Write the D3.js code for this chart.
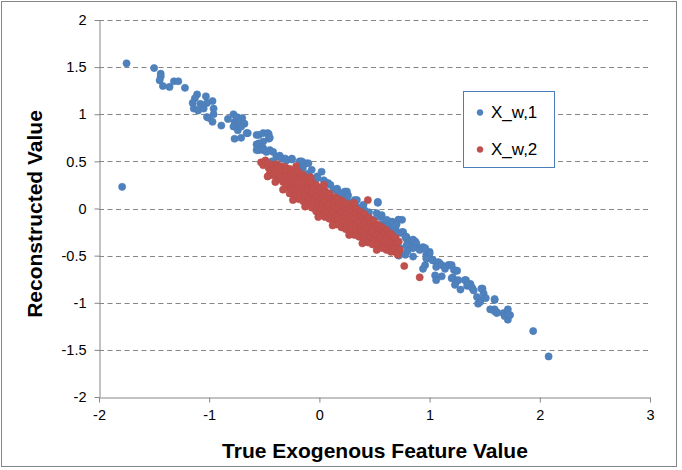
<!DOCTYPE html>
<html><head><meta charset="utf-8">
<script src="https://cdn.jsdelivr.net/npm/d3@7"></script>
<style>body{margin:0;background:#fff;} svg{display:block;}</style>
</head><body>
<svg id="c" width="682" height="470"></svg>
<script>
const xTicks = [-2, -1, 0, 1, 2, 3];
const yTicks = [-2, -1.5, -1, -0.5, 0, 0.5, 1, 1.5, 2];
const seriesNames = ["X_w,1", "X_w,2"];
const xTitle = "True Exogenous Feature Value";
const yTitle = "Reconstructed Value";

const blueData = [
[-1.79,0.23],
[-1.75,1.54],[-1.50,1.49],[-1.44,1.43],[-1.44,1.40],[-1.45,1.36],[-1.42,1.30],[-1.36,1.29],[-1.32,1.35],[-1.28,1.35],[-1.22,1.28],
[-1.11,1.21],[-1.13,1.17],[-1.03,1.19],[-0.97,1.14],[-1.15,1.12],[-1.08,1.11],[-1.02,1.12],[-1.14,1.06],[-1.10,1.04],[-1.05,1.06],
[-0.96,1.06],[-0.96,1.00],[-1.02,0.97],[-1.00,0.96],[-0.97,0.92],[-0.89,0.88],[-0.83,0.95],[-0.78,1.00],[-0.75,0.97],[-0.70,0.96],
[-0.77,0.92],[-0.74,0.90],[-0.68,0.90],[-0.78,0.87],[-0.74,0.83],[-0.65,0.80],[-0.77,0.74],[-0.71,0.75],[-0.71,0.87],[-0.66,0.80],
[-0.57,0.78],[-0.55,0.78],[-0.51,0.80],[-0.47,0.80],[-0.46,0.79],[-0.46,0.74],[-0.45,0.75],[-0.51,0.71],[-0.57,0.68],[-0.55,0.69],
[-0.55,0.62],[-0.57,0.62],[-0.51,0.64],[-0.51,0.62],[-0.45,0.62],[-0.48,0.60],[-0.42,0.60],[-0.39,0.55],[-0.36,0.56],[-0.36,0.55],
[-0.34,0.53],[-0.31,0.53],[-0.30,0.51],[-0.25,0.53],[-0.25,0.52],[-0.44,0.48],[-0.43,0.50],
[-0.18,0.50],[-0.16,0.50],[-0.12,0.48],[-0.10,0.48],[-0.15,0.43],[-0.18,0.43],[-0.07,0.41],[-0.10,0.37],[0.02,0.39],[-0.02,0.34],
[-0.02,0.32],[0.04,0.30],[0.05,0.28],[0.08,0.27],[0.10,0.25],[0.13,0.20],[0.16,0.20],[0.17,0.18],[0.16,0.21],[0.23,0.18],
[0.25,0.18],[0.23,0.16],[0.26,0.14],[0.25,0.12],[0.19,0.12],[0.20,0.09],[0.32,0.09],[0.34,0.09],[0.34,0.02],[0.40,0.04],
[0.38,0.00],[0.53,0.06],[0.53,0.07],[0.41,-0.02],[0.43,-0.05],[0.52,-0.05],[0.55,-0.09],[0.46,-0.11],[0.49,-0.12],[0.58,-0.16],
[0.66,-0.14],[0.72,-0.12],[0.58,-0.19],[0.64,-0.21],[0.69,-0.21],[0.67,-0.26],[0.75,-0.25],[0.52,-0.25],[0.75,-0.12],[0.76,-0.25],
[0.79,-0.30],[0.79,-0.32],[0.84,-0.34],[0.85,-0.34],[0.87,-0.35],[0.82,-0.39],[0.88,-0.41],[0.82,-0.41],[0.94,-0.42],[0.94,-0.41],
[0.73,-0.42],[1.00,-0.46],[0.85,-0.51],[0.78,-0.49],[0.97,-0.49],[1.00,-0.53],[1.03,-0.55],[0.96,-0.60],[1.09,-0.58],[1.17,-0.60],
[1.22,-0.65],
[0.565,-0.07],[0.64,-0.14],[0.716,-0.12],[0.61,-0.19],[0.67,-0.25],[0.73,-0.26],[0.78,-0.30],[0.82,-0.34],[0.85,-0.33],[0.88,-0.37],
[0.79,-0.39],[0.85,-0.42],[0.91,-0.44],[0.96,-0.42],[1.00,-0.48],[0.97,-0.53],[1.03,-0.55],[1.08,-0.57],[0.94,-0.64],[1.06,-0.62],
[1.11,-0.60],[1.14,-0.64],[1.18,-0.60],[1.24,-0.66],[1.05,-0.71],[1.11,-0.72],[1.06,-0.76],[1.20,-0.74],[1.24,-0.78],[1.28,-0.86],
[1.33,-0.76],[1.37,-0.80],[1.39,-0.85],[1.34,-0.82],[1.48,-0.85],[1.49,-0.90],[1.43,-0.94],[1.46,-0.97],[1.51,-0.95],[1.44,-1.01],
[1.59,-0.97],[1.55,-1.07],[1.59,-1.07],[1.61,-1.10],[1.67,-1.11],[1.71,-1.07],[1.73,-1.13],[1.71,-1.18],[1.68,-1.14],[1.94,-1.30],
[1.20,-0.60],[1.25,-0.66],[1.21,-0.73],[1.26,-0.76],[1.23,-0.81],[1.32,-0.76],[1.35,-0.81],[1.38,-0.83],[1.40,-0.87],[1.47,-0.85],
[1.46,-0.99],[1.59,-0.96],[1.59,-1.09],[1.61,-1.11],[1.72,-1.13],[2.08,-1.57],
[0.29,0.06],[0.45,-0.04],[0.61,-0.12],[0.70,-0.17],[0.80,-0.45],[0.72,-0.50],
[-0.30,0.40],[-0.20,0.30],[-0.10,0.20],[0.00,0.12],[0.10,0.05],[0.20,-0.02],[0.30,-0.10],[0.40,-0.18],[0.50,-0.25],[0.60,-0.30],[0.68,-0.36]
];

const redData = [
[-0.53,0.49],[-0.51,0.46],[-0.49,0.51],
[-0.47,0.48],[-0.46,0.43],[-0.45,0.37],
[-0.43,0.46],[-0.42,0.41],[-0.42,0.35],
[-0.39,0.47],[-0.39,0.42],[-0.38,0.37],[-0.37,0.31],
[-0.35,0.45],[-0.34,0.40],[-0.35,0.34],[-0.33,0.28],
[-0.31,0.44],[-0.30,0.39],[-0.31,0.33],[-0.29,0.28],[-0.30,0.23],
[-0.27,0.42],[-0.26,0.37],[-0.27,0.31],[-0.25,0.26],[-0.26,0.21],[-0.27,0.16],
[-0.23,0.40],[-0.22,0.35],[-0.23,0.29],[-0.21,0.24],[-0.22,0.19],[-0.23,0.13],
[-0.19,0.39],[-0.18,0.33],[-0.19,0.27],[-0.17,0.22],[-0.18,0.16],[-0.19,0.10],
[-0.15,0.36],[-0.14,0.31],[-0.15,0.25],[-0.13,0.19],[-0.14,0.13],[-0.15,0.08],
[-0.11,0.32],[-0.10,0.27],[-0.11,0.21],[-0.09,0.15],[-0.10,0.10],[-0.11,0.05],
[-0.07,0.28],[-0.06,0.22],[-0.07,0.17],[-0.05,0.11],[-0.06,0.06],[-0.07,0.01],
[-0.03,0.25],[-0.02,0.19],[-0.03,0.13],[-0.01,0.08],[-0.02,0.02],[-0.03,-0.03],
[0.01,0.22],[0.02,0.16],[0.01,0.10],[0.03,0.05],[0.02,-0.01],[0.00,-0.06],
[0.05,0.19],[0.06,0.13],[0.05,0.07],[0.07,0.02],[0.06,-0.04],[0.05,-0.09],
[0.09,0.16],[0.10,0.10],[0.09,0.05],[0.11,-0.01],[0.10,-0.07],[0.09,-0.11],
[0.14,0.12],[0.13,0.08],[0.14,0.02],[0.12,-0.04],[0.14,-0.09],[0.13,-0.14],
[0.17,0.10],[0.18,0.04],[0.16,-0.01],[0.18,-0.07],[0.17,-0.12],[0.16,-0.17],
[0.21,0.08],[0.22,0.02],[0.20,-0.03],[0.22,-0.09],[0.21,-0.14],[0.20,-0.20],
[0.25,0.05],[0.26,-0.01],[0.24,-0.06],[0.26,-0.12],[0.25,-0.17],[0.24,-0.22],
[0.29,0.03],[0.30,-0.03],[0.28,-0.09],[0.30,-0.14],[0.29,-0.20],[0.28,-0.25],
[0.33,0.00],[0.34,-0.05],[0.32,-0.11],[0.34,-0.17],[0.33,-0.22],[0.32,-0.28],
[0.37,-0.03],[0.38,-0.08],[0.36,-0.14],[0.38,-0.19],[0.37,-0.25],[0.36,-0.30],
[0.41,-0.06],[0.42,-0.12],[0.40,-0.17],[0.42,-0.23],[0.41,-0.28],[0.40,-0.33],
[0.45,-0.10],[0.46,-0.15],[0.44,-0.21],[0.46,-0.26],[0.45,-0.31],[0.44,-0.36],
[0.49,-0.13],[0.50,-0.19],[0.48,-0.24],[0.50,-0.29],[0.49,-0.34],[0.48,-0.38],
[0.53,-0.17],[0.54,-0.22],[0.52,-0.28],[0.54,-0.33],[0.53,-0.39],
[0.57,-0.20],[0.58,-0.26],[0.56,-0.31],[0.58,-0.36],[0.57,-0.42],
[0.61,-0.23],[0.62,-0.29],[0.60,-0.34],[0.62,-0.39],[0.61,-0.44],
[0.65,-0.27],[0.66,-0.32],[0.64,-0.37],[0.66,-0.42],[0.65,-0.46],
[0.69,-0.31],[0.70,-0.37],[0.68,-0.42],[0.70,-0.47],
[0.72,-0.35],[0.73,-0.44],[0.71,-0.49],
[-0.47,0.34],[-0.40,0.28],[-0.33,0.20],[-0.24,0.09],[-0.13,0.02],[-0.01,-0.09],[0.12,-0.18],[0.27,-0.28],[0.39,-0.37],[0.52,-0.44],
[-0.21,0.45],[-0.08,0.33],[0.04,0.25],[0.31,0.06],
[0.44,0.09],[0.77,-0.61],[0.91,-0.73]
];

const colors = ["#4F81BD", "#C0504D"];
const strokes = ["#4A7EBB", "#BE4B48"];

const svg = d3.select("#c");
const font = "'Liberation Sans', Arial, sans-serif";

svg.append("rect").attr("x", 1.5).attr("y", 1.5).attr("width", 675).attr("height", 465)
  .attr("fill", "#fff").attr("stroke", "#868686").attr("stroke-width", 1);

const x = d3.scaleLinear().domain([-2, 3]).range([99, 650]);
const y = d3.scaleLinear().domain([-2, 2]).range([397, 20]);

// gridlines
svg.append("g").selectAll("line").data(yTicks.filter(d => d !== -2)).join("line")
  .attr("x1", x(-2)).attr("x2", x(3))
  .attr("y1", d => Math.round(y(d)) + 0.5).attr("y2", d => Math.round(y(d)) + 0.5)
  .attr("stroke", "#868686").attr("stroke-width", 1).attr("stroke-dasharray", "5,3.5");

// axes
const yAxis = svg.append("g").attr("transform", `translate(${x(-2) + 0.5},0)`)
  .call(d3.axisLeft(y).tickValues(yTicks).tickSize(5).tickSizeOuter(0).tickPadding(8).tickFormat(d => String(d)));
const xAxis = svg.append("g").attr("transform", `translate(0,${y(-2) + 0.5})`)
  .call(d3.axisBottom(x).tickValues(xTicks).tickSize(5).tickSizeOuter(0).tickPadding(7).tickFormat(d => String(d)));
[xAxis, yAxis].forEach(g => {
  g.selectAll("path, line").attr("stroke", "#868686");
  g.selectAll("text").attr("font-family", font).attr("font-size", 14.5).attr("fill", "#000");
});

// points
const r = 3.6;
svg.append("g").selectAll("circle").data(blueData).join("circle")
  .attr("cx", d => x(d[0])).attr("cy", d => y(d[1])).attr("r", r)
  .attr("fill", colors[0]).attr("stroke", strokes[0]).attr("stroke-width", 0.6);
svg.append("g").selectAll("circle").data(redData).join("circle")
  .attr("cx", d => x(d[0])).attr("cy", d => y(d[1])).attr("r", r)
  .attr("fill", colors[1]).attr("stroke", strokes[1]).attr("stroke-width", 0.6);

// legend
const lg = svg.append("g");
lg.append("rect").attr("x", 463.5).attr("y", 91.5).attr("width", 91).attr("height", 76)
  .attr("fill", "#fff").attr("stroke", "#4A7EBB").attr("stroke-width", 1);
seriesNames.forEach((n, i) => {
  const cy = 112.5 + i * 37;
  lg.append("circle").attr("cx", 480).attr("cy", cy).attr("r", 3)
    .attr("fill", colors[i]).attr("stroke", strokes[i]).attr("stroke-width", 0.5);
  lg.append("text").attr("x", 491).attr("y", cy).attr("dy", "0.35em")
    .attr("font-family", font).attr("font-size", 17).attr("fill", "#000").text(n);
});

// titles
svg.append("text").attr("x", 375).attr("y", 458).attr("text-anchor", "middle")
  .attr("font-family", font).attr("font-weight", "bold").attr("font-size", 21).attr("fill", "#000").text(xTitle);
svg.append("text").attr("transform", "translate(42,214) rotate(-90)").attr("text-anchor", "middle")
  .attr("font-family", font).attr("font-weight", "bold").attr("font-size", 21).attr("fill", "#000").text(yTitle);
</script>
</body></html>
